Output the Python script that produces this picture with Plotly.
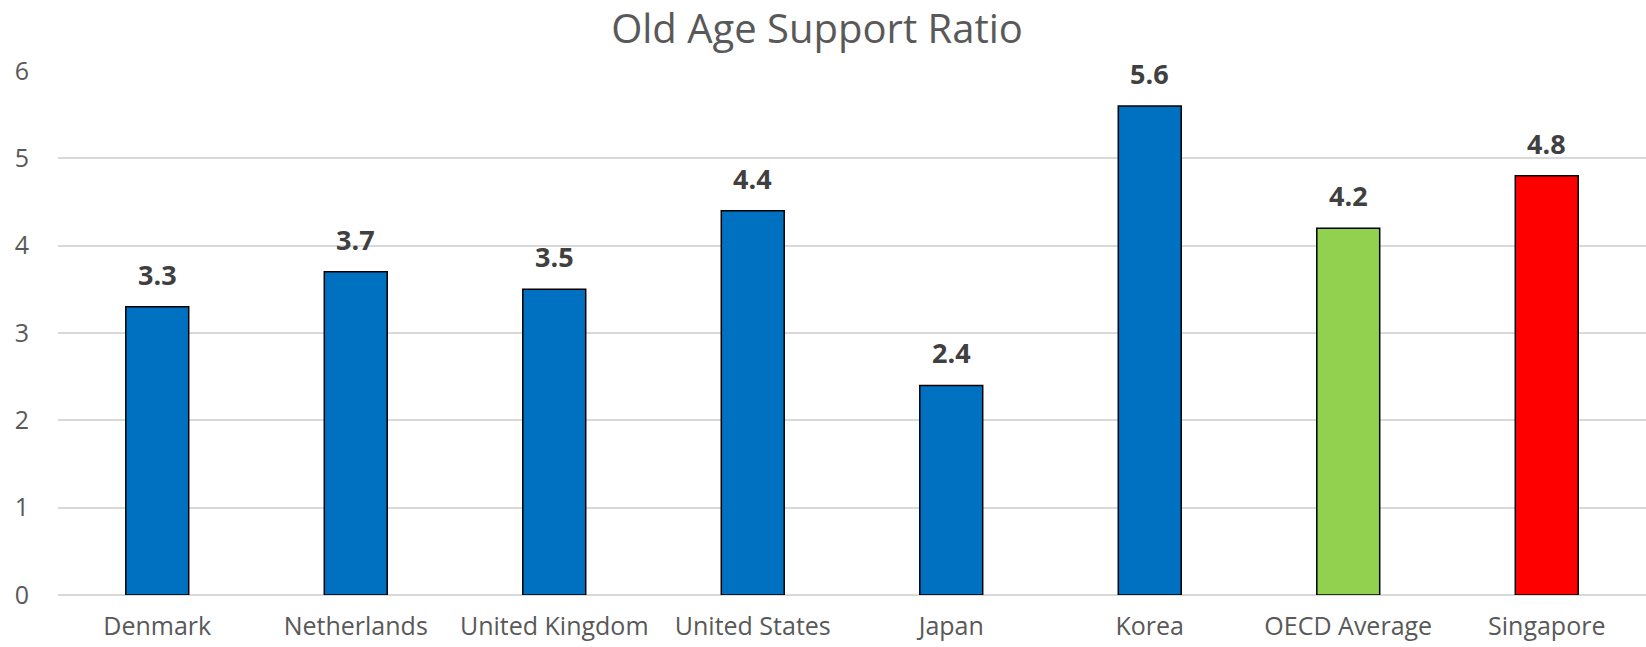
import plotly.graph_objects as go

# Old-age support ratio by country
countries = ["Denmark", "Netherlands", "United Kingdom", "United States",
             "Japan", "Korea", "OECD Average", "Singapore"]
ratios = [3.3, 3.7, 3.5, 4.4, 2.4, 5.6, 4.2, 4.8]
bar_colors = ["#0070C0", "#0070C0", "#0070C0", "#0070C0",
              "#0070C0", "#0070C0", "#92D050", "#FF0000"]
y_ticks = [0, 1, 2, 3, 4, 5, 6]

FONT = "Open Sans"

fig = go.Figure(
    go.Bar(
        x=countries,
        y=ratios,
        marker=dict(color=bar_colors, line=dict(color="#000000", width=1.5)),
        hoverinfo="x+y",
    )
)

# Value labels above each bar
for c, v in zip(countries, ratios):
    fig.add_annotation(
        x=c, y=v, text=f"<b>{v:.1f}</b>", showarrow=False,
        yanchor="bottom", yshift=12,
        font=dict(family=FONT, size=27, color="#404040"),
    )

fig.update_layout(
    width=1646, height=647,
    margin=dict(l=58, r=0, t=71, b=52),
    paper_bgcolor="white", plot_bgcolor="white",
    bargap=0.683,
    showlegend=False,
    title=dict(
        text="Old Age Support Ratio",
        x=817 / 1646, xanchor="center", xref="container",
        y=1 - 29 / 647, yanchor="middle", yref="container",
        font=dict(family=FONT, size=40, color="#595959"),
    ),
    font=dict(family=FONT, color="#595959"),
)

fig.update_xaxes(
    showgrid=False, showline=False, ticks="",
    tickfont=dict(family=FONT, size=25, color="#595959"),
    ticklabelstandoff=14,
)
fig.update_yaxes(
    range=[0, 6], tickvals=y_ticks,
    showgrid=True, gridcolor="#D9D9D9", gridwidth=1.5,
    zeroline=True, zerolinecolor="#D9D9D9", zerolinewidth=1.5,
    showline=False, ticks="",
    tickfont=dict(family=FONT, size=25, color="#595959"),
    ticklabelstandoff=28,
)

fig.write_html("out.html")
